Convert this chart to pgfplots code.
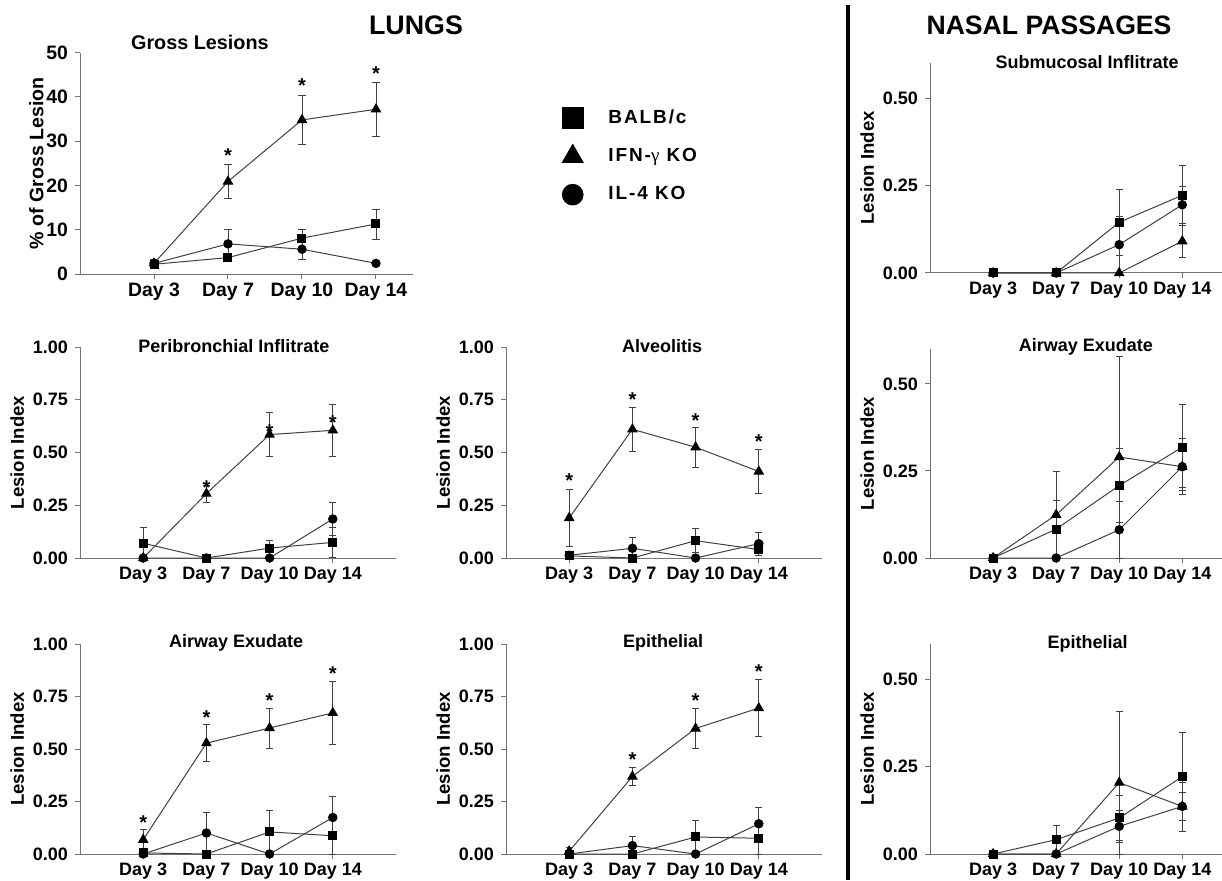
\documentclass[border=0pt]{standalone}
\usepackage{fontspec}
\setmainfont{Liberation Sans}
\newfontfamily\greekfont{Liberation Serif}
\newfontfamily\legfont{Liberation Sans}[LetterSpace=10]
\usepackage{pgfplots}
\pgfplotsset{compat=1.18}

\newcommand\fsz[1]{\fontsize{#1}{#1}\selectfont}

\pgfplotsset{
  panel/.style={
    scale only axis, clip=false, anchor=south west,
    axis x line*=bottom, axis y line*=left,
    axis line style={-, black!55, line width=0.5pt},
    xmin=0, xmax=5, ymin=0, ymax=1,
    xtick={1,2,3,4}, xticklabels={Day 3,Day 7,Day 10,Day 14},
    tick align=outside, major tick length=2.5pt,
    tick style={black!55, line width=0.5pt},
    /pgf/number format/assume math mode=true,
    yticklabel style={/pgf/number format/.cd, fixed, fixed zerofill, precision=2},
    xticklabel style={yshift=1.5pt},
    tick label style={font=\bfseries\fsz{9}},
    ylabel={Lesion Index}, ylabel shift=-2.5pt,
    ylabel style={font=\bfseries\fsz{9.3}},
    title style={font=\bfseries\fsz{9}, anchor=center, yshift=-6pt},
  },
  lungs/.style={ytick={0,0.25,0.5,0.75,1}},
  nasal/.style={ymax=0.6, ytick={0,0.25,0.5}, xmax=4.63},
  ser/.style={black!75, line width=0.5pt,
    mark options={solid, fill=black, draw=black},
    error bars/.cd, y dir=both, y explicit,
    error mark options={rotate=90, mark size=1.8pt, black!75, line width=0.4pt},
    error bar style={black!75, line width=0.4pt}},
  bal/.style={mark=square*, mark size=2pt, ser},
  ifn/.style={mark=triangle*, mark size=2.6pt, ser},
  il4/.style={mark=*, mark size=2.1pt, ser},
  stars/.style={draw=none, mark=none, nodes near coords={*},
    every node near coord/.append style={anchor=base, yshift=-5.5pt, font=\bfseries\fsz{10}, black}},
}

\begin{document}
\begin{tikzpicture}
\path[use as bounding box] (0,0) rectangle (611pt,440pt);

% section headings and divider
\node[font=\bfseries\fsz{13.4}] at (208pt,427.5pt) {LUNGS};
\node[font=\bfseries\fsz{13.3}] at (524.5pt,427.5pt) {NASAL PASSAGES};
\draw[line width=2pt] (424pt,437.5pt) -- (424pt,0pt);

% ---- Gross lesions
\begin{axis}[panel, at={(40pt,303pt)}, width=166.5pt, height=110.7pt,
  xmax=4.5, ymax=50, ytick={0,10,20,30,40,50},
  yticklabel style={/pgf/number format/.cd, fixed, precision=0},
  tick label style={font=\bfseries\fsz{9.7}},
  ylabel={\% of Gross Lesion}, ylabel shift=-5.5pt, ylabel style={font=\bfseries\fsz{9.8}},
  title={Gross Lesions}, title style={at={(axis description cs:0.36,1.044)}, font=\bfseries\fsz{9.9}},
  legend style={draw=none, fill=none, at={(1.408,0.781)}, anchor=north west,
    row sep=7pt, font=\legfont\bfseries\fsz{9.5}},
  legend cell align=left,
  legend image code/.code={\path (0cm,0cm) (0.85cm,0cm); \path[#1, only marks] plot coordinates {(0.3cm,0cm)};},
]
\addlegendimage{only marks, mark=square*, mark size=5.2pt, fill=black}
\addlegendentry{BALB/c}
\addlegendimage{only marks, mark=triangle*, mark size=6pt, fill=black}
\addlegendentry{IFN-{\greekfont\mdseries γ} KO}
\addlegendimage{only marks, mark=*, mark size=5.2pt, fill=black}
\addlegendentry{IL-4 KO}
\addplot[ifn] coordinates {(1,2.4) +- (0,1.0) (2,20.9) +- (0,3.9) (3,34.8) +- (0,5.5) (4,37.2) +- (0,6.1)};
\addplot[il4] coordinates {(1,2.4) +- (0,0.8) (2,6.8) +- (0,3.3) (3,5.6) +- (0,2.4) (4,2.4) +- (0,0.5)};
\addplot[bal] coordinates {(1,2.2) +- (0,0.8) (2,3.7) +- (0,0.8) (3,8.1) +- (0,2.0) (4,11.3) +- (0,3.4)};
\addplot[stars] coordinates {(2,27.6) (3,43.4) (4,46.1)};
\end{axis}

% ---- Peribronchial infiltrate
\begin{axis}[panel, lungs, at={(40pt,161pt)}, width=158pt, height=105.5pt,
  title={Peribronchial Inflitrate}, title style={at={(axis description cs:0.487,1.005)}}]
\addplot[ifn] coordinates {(1,0) +- (0,0) (2,0.305) +- (0,0.04) (3,0.585) +- (0,0.105) (4,0.605) +- (0,0.125)};
\addplot[il4] coordinates {(1,0) +- (0,0) (2,0) +- (0,0) (3,0) +- (0,0) (4,0.185) +- (0,0.08)};
\addplot[bal] coordinates {(1,0.07) +- (0,0.075) (2,0) +- (0,0) (3,0.047) +- (0,0.035) (4,0.074) +- (0,0.07)};
\addplot[stars] coordinates {(2,0.355) (3,0.62) (4,0.66)};
\end{axis}

% ---- Alveolitis
\begin{axis}[panel, lungs, at={(253pt,161pt)}, width=158pt, height=105.5pt,
  title={Alveolitis}, title style={at={(axis description cs:0.494,1.005)}}]
\addplot[ifn] coordinates {(1,0.19) +- (0,0.135) (2,0.61) +- (0,0.105) (3,0.525) +- (0,0.095) (4,0.41) +- (0,0.105)};
\addplot[il4] coordinates {(1,0.013) +- (0,0) (2,0.046) +- (0,0.05) (3,0) +- (0,0) (4,0.068) +- (0,0.055)};
\addplot[bal] coordinates {(1,0.01) +- (0,0) (2,0) +- (0,0) (3,0.082) +- (0,0.056) (4,0.04) +- (0,0.03)};
\addplot[stars] coordinates {(1,0.387) (2,0.77) (3,0.67) (4,0.57)};
\end{axis}

% ---- Airway exudate (lungs)
\begin{axis}[panel, lungs, at={(40pt,13pt)}, width=158pt, height=105pt,
  title={Airway Exudate}, title style={at={(axis description cs:0.494,1.005)}}]
\addplot[ifn] coordinates {(1,0.068) +- (0,0.048) (2,0.528) +- (0,0.087) (3,0.6) +- (0,0.095) (4,0.672) +- (0,0.152)};
\addplot[il4] coordinates {(1,0) +- (0,0) (2,0.1) +- (0,0.1) (3,0) +- (0,0) (4,0.174) +- (0,0.1)};
\addplot[bal] coordinates {(1,0.005) +- (0,0) (2,0) +- (0,0) (3,0.105) +- (0,0.105) (4,0.087) +- (0,0.087)};
\addplot[stars] coordinates {(1,0.17) (2,0.67) (3,0.75) (4,0.88)};
\end{axis}

% ---- Epithelial (lungs)
\begin{axis}[panel, lungs, at={(253pt,13pt)}, width=158pt, height=105pt,
  title={Epithelial}, title style={at={(axis description cs:0.497,1.005)}}]
\addplot[ifn] coordinates {(1,0.013) +- (0,0.02) (2,0.369) +- (0,0.044) (3,0.598) +- (0,0.095) (4,0.695) +- (0,0.137)};
\addplot[il4] coordinates {(1,0) +- (0,0) (2,0.04) +- (0,0.044) (3,0) +- (0,0) (4,0.144) +- (0,0.08)};
\addplot[bal] coordinates {(1,0) +- (0,0) (2,0) +- (0,0) (3,0.081) +- (0,0.08) (4,0.075) +- (0,0.075)};
\addplot[stars] coordinates {(2,0.467) (3,0.75) (4,0.887)};
\end{axis}

% ---- Submucosal infiltrate (nasal)
\begin{axis}[panel, nasal, at={(465pt,303.5pt)}, width=146pt, height=105pt,
  title={Submucosal Inflitrate}, title style={at={(axis description cs:0.538,1.005)}}]
\addplot[ifn] coordinates {(1,0) +- (0,0) (2,0) +- (0,0) (3,0) +- (0,0) (4,0.091) +- (0,0.046)};
\addplot[il4] coordinates {(1,0) +- (0,0) (2,0) +- (0,0) (3,0.081) +- (0,0.081) (4,0.195) +- (0,0.053)};
\addplot[bal] coordinates {(1,0) +- (0,0) (2,0) +- (0,0) (3,0.145) +- (0,0.095) (4,0.222) +- (0,0.086)};
\end{axis}

% ---- Airway exudate (nasal)
\begin{axis}[panel, nasal, at={(465pt,161pt)}, width=146pt, height=104.5pt,
  title={Airway Exudate}, title style={at={(axis description cs:0.534,1.01)}}]
\addplot[ifn] coordinates {(1,0) +- (0,0) (2,0.124) +- (0,0.124) (3,0.29) +- (0,0.29) (4,0.262) +- (0,0.06)};
\addplot[il4] coordinates {(1,0) +- (0,0) (2,0) +- (0,0) (3,0.081) +- (0,0.081) (4,0.262) +- (0,0.08)};
\addplot[bal] coordinates {(1,0) +- (0,0) (2,0.083) +- (0,0.083) (3,0.208) +- (0,0.106) (4,0.318) +- (0,0.124)};
\end{axis}

% ---- Epithelial (nasal)
\begin{axis}[panel, nasal, at={(465pt,13pt)}, width=146pt, height=105pt,
  title={Epithelial}, title style={at={(axis description cs:0.54,1.0)}}]
\addplot[ifn] coordinates {(1,0) +- (0,0) (2,0) +- (0,0) (3,0.204) +- (0,0.204) (4,0.136) +- (0,0.07)};
\addplot[il4] coordinates {(1,0) +- (0,0) (2,0) +- (0,0) (3,0.079) +- (0,0.046) (4,0.136) +- (0,0.04)};
\addplot[bal] coordinates {(1,0) +- (0,0) (2,0.041) +- (0,0.04) (3,0.103) +- (0,0.065) (4,0.221) +- (0,0.126)};
\end{axis}
\end{tikzpicture}
\end{document}
